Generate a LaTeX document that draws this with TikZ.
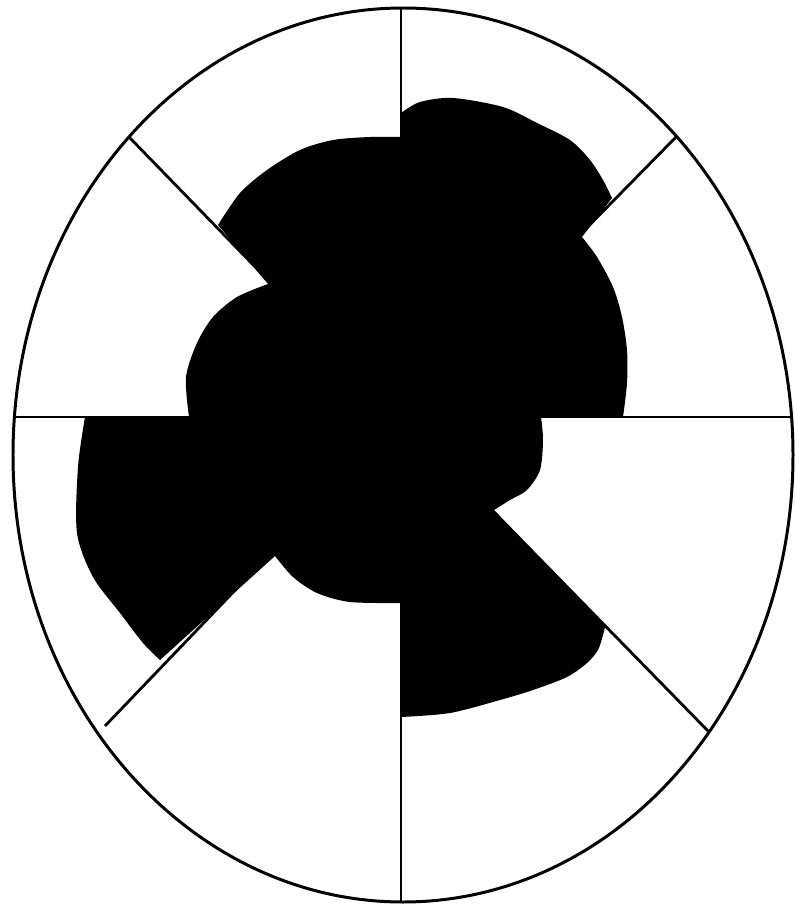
\documentclass[tikz,border=0pt]{standalone}
\begin{document}
\begin{tikzpicture}[x=0.01cm,y=-0.01cm,
  divider/.style={line width=0.8pt,black},
  rim/.style={line width=0.85pt,black},
  blob/.style={fill=black}]
\useasboundingbox (0,0) rectangle (795,909);
\fill[white] (0,0) rectangle (795,909);
\coordinate (C) at (401,417);
\coordinate (T) at (401,8);
\coordinate (B) at (401,903);
\coordinate (L) at (13,417);
\coordinate (R) at (793,417);
\coordinate (UL) at (129,137);
\coordinate (UR) at (677,136);
\coordinate (LL) at (105,726);
\coordinate (LR) at (708,731);
% dividers
\draw[divider] (T) -- (B);
\draw[divider] (L) -- (R);
\draw[divider] (C) -- (UL);
\draw[divider] (C) -- (UR);
\draw[divider] (C) -- (LL);
\draw[divider] (C) -- (LR);
% black blob
\fill[blob] (401,137) -- (401,113)
  -- plot[smooth] coordinates {(401,113) (420,102) (453,98) (503,107) (537,123) (570,140) (590,160) (603,180) (612,198)}
  -- (582,237)
  -- plot[smooth] coordinates {(582,237) (597,257) (613,287) (622,317) (627,350) (627,383) (623,417)}
  -- (541,417)
  -- plot[smooth] coordinates {(541,417) (543,440) (540,470) (527,490) (510,500) (494,510)}
  -- (605,627)
  -- plot[smooth] coordinates {(605,627) (603,635) (598,650) (587,663) (567,677) (533,690) (500,700) (450,713) (401,717)}
  -- (401,603)
  -- plot[smooth] coordinates {(401,603) (350,602) (317,593) (293,577) (275,556)}
  -- (160,660)
  -- plot[smooth] coordinates {(160,660) (143,643) (120,613) (93,577) (77,533) (78,467) (85,417)}
  -- (189,417)
  -- plot[smooth] coordinates {(189,417) (186,377) (197,343) (213,317) (237,297) (268,284)}
  -- (218,225)
  -- plot[smooth] coordinates {(218,225) (240,193) (267,170) (300,150) (333,140) (370,137) (401,137)}
  -- cycle;
% rim
\draw[rim] (403,455) ellipse [x radius=390, y radius=447];
\end{tikzpicture}
\end{document}
